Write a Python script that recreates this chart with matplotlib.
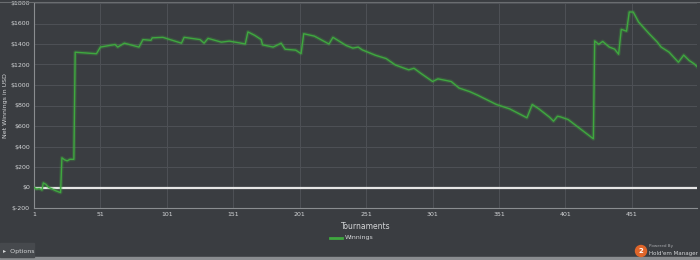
import matplotlib
matplotlib.use("Agg")
import matplotlib.pyplot as plt
from matplotlib.patches import Ellipse, Rectangle

# tournament number and cumulative net winnings (USD)
tournaments = [1, 3, 5, 7, 8, 10, 12, 14, 17, 20, 21, 22, 24, 26, 28, 31, 32,
               48, 51, 58, 62, 64, 69, 80, 83, 89, 90, 98, 112, 114, 126, 129,
               132, 142, 148, 156, 160, 162, 167, 172, 173, 181, 187, 190, 198,
               202, 204, 212, 223, 226, 236, 241, 245, 248, 258, 266, 273, 283,
               287, 292, 301, 305, 315, 321, 329, 335, 349, 359, 372, 376, 381,
               389, 392, 395, 397, 403, 422, 423, 426, 429, 434, 438, 441, 443,
               447, 449, 452, 456, 464, 470, 473, 479, 486, 490, 494, 498, 500]
winnings = [0, -15, -10, -25, 45, 30, 0, -10, -30, -45, -50, 290, 270, 260,
            275, 275, 1320, 1305, 1370, 1386, 1395, 1370, 1408, 1370, 1443,
            1436, 1460, 1465, 1408, 1465, 1443, 1408, 1455, 1418, 1428, 1410,
            1400, 1518, 1485, 1443, 1392, 1370, 1408, 1349, 1340, 1306, 1500,
            1477, 1400, 1465, 1385, 1360, 1370, 1343, 1290, 1258, 1195, 1148,
            1163, 1115, 1034, 1060, 1034, 970, 935, 900, 810, 767, 680, 810,
            767, 686, 647, 695, 690, 663, 475, 1430, 1397, 1425, 1370, 1350,
            1300, 1543, 1525, 1712, 1712, 1615, 1500, 1420, 1370, 1320, 1222,
            1292, 1240, 1205, 1180]

x_ticks = [1, 51, 101, 151, 201, 251, 301, 351, 401, 451]
y_ticks = [-200, 0, 200, 400, 600, 800, 1000, 1200, 1400, 1600, 1800]
y_tick_labels = ['$' + str(v) for v in y_ticks]

BG = '#3a3d41'
GRID = '#4e5156'
TEXT = '#d4d6d8'
GREEN = '#3fa83f'

fig = plt.figure(figsize=(7, 2.6), dpi=100, facecolor=BG)
ax = fig.add_axes([34 / 700, 1 - 208 / 260, 663 / 700, 205 / 260])
ax.set_facecolor(BG)

ax.plot(tournaments, winnings, color=GREEN, linewidth=2.8, alpha=0.25, zorder=3)
ax.plot(tournaments, winnings, color=GREEN, linewidth=1.0, zorder=4)
ax.axhline(0, color='#e6e6e6', linewidth=1.6, zorder=2)

ax.set_xlim(1, 500)
ax.set_ylim(-200, 1800)
ax.set_xticks(x_ticks)
ax.set_yticks(y_ticks)
ax.set_yticklabels(y_tick_labels)
ax.tick_params(colors=TEXT, labelsize=4.5, length=0, pad=3)
ax.grid(True, color=GRID, linewidth=0.7)
ax.set_axisbelow(True)

for side in ['top', 'right']:
    ax.spines[side].set_visible(False)
for side in ['left', 'bottom']:
    ax.spines[side].set_color('#8a8d90')
    ax.spines[side].set_linewidth(0.8)

ax.set_xlabel('Tournaments', color=TEXT, fontsize=5.5)
ax.xaxis.set_label_coords(0.5, -(222 - 208) / 205)
ax.set_ylabel('Net Winnings in USD', color=TEXT, fontsize=4.5)
ax.yaxis.set_label_coords(-(34 - 8) / 663, 0.5)

# top frame line
fig.add_artist(plt.Line2D([0, 1], [1 - 2 / 260, 1 - 2 / 260], color='#6a6d70', linewidth=0.8))

# legend
fig.add_artist(plt.Line2D([330 / 700, 342 / 700], [1 - 238 / 260] * 2, color=GREEN, linewidth=2))
fig.text(345 / 700, 1 - 238 / 260, 'Winnings', color=TEXT, fontsize=4.5, va='center')

# bottom bar with Options button
fig.add_artist(Rectangle((0, 0), 1, 3 / 260, color='#8a8d90', transform=fig.transFigure))
fig.add_artist(Rectangle((0, 3 / 260), 34 / 700, 14 / 260, color='#46494d', transform=fig.transFigure))
fig.text(3 / 700, 1 - 252 / 260, '▸  Options', color=TEXT, fontsize=4.5, va='center')

# Powered by Hold'em Manager badge
fig.add_artist(Ellipse((641 / 700, 1 - 251 / 260), 11 / 700, 11 / 260, color='#e0662a',
                       transform=fig.transFigure))
fig.text(641 / 700, 1 - 251 / 260, '2', color='white', fontsize=5, fontweight='bold',
         ha='center', va='center')
fig.text(649 / 700, 1 - 246 / 260, 'Powered By', color='#a8aaad', fontsize=3, va='center')
fig.text(649 / 700, 1 - 253 / 260, "Hold'em Manager", color=TEXT, fontsize=4, va='center')

fig.savefig('out.png', dpi=100, facecolor=BG)
